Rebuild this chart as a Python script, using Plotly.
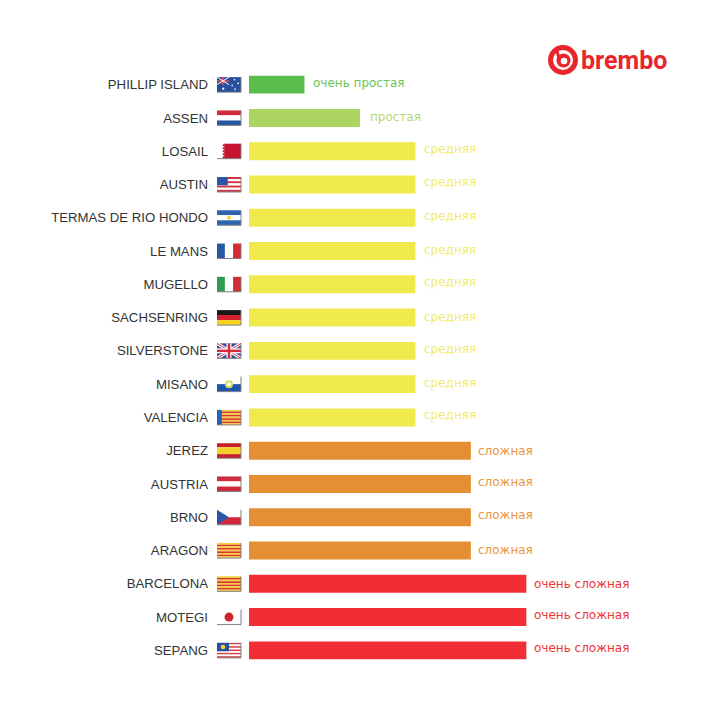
import plotly.graph_objects as go

circuits = ["PHILLIP ISLAND", "ASSEN", "LOSAIL", "AUSTIN", "TERMAS DE RIO HONDO", "LE MANS", "MUGELLO",
            "SACHSENRING", "SILVERSTONE", "MISANO", "VALENCIA", "JEREZ", "AUSTRIA", "BRNO", "ARAGON",
            "BARCELONA", "MOTEGI", "SEPANG"]
difficulty = [1, 2, 3, 3, 3, 3, 3, 3, 3, 3, 3, 4, 4, 4, 4, 5, 5, 5]
level_names = {1: "очень простая", 2: "простая", 3: "средняя", 4: "сложная", 5: "очень сложная"}
bar_colors = {1: "#5BBD4E", 2: "#ABD463", 3: "#F0E94C", 4: "#E58F35", 5: "#F12E36"}
text_colors = {1: "#6CC460", 2: "#B4D972", 3: "#F2EC70", 4: "#E8963E", 5: "#EF3338"}
label_nudge = [2, 1, 2, 2, 2, 1, 2, 1, 2, 1, 2, 0, 2, 2, 1, 0, 2, 2]
label_gap = {1: 7, 2: 8, 3: 7, 4: 5, 5: 6}

W, Y = "#FFFFFF", "#F5D327"
stripes_cat = [(0, 1, i / 9, (i + 1) / 9, "#D9362B" if i % 2 else "#F4CE3A") for i in range(9)]
# flag rectangles: (x0, x1, y0, y1, colour) as fractions of the flag box, y measured from the top
flags = {
    "PHILLIP ISLAND": [(0, 1, 0, 1, "#24509F"), (0, .5, .2, .3, "#E04B5A"), (.2, .3, 0, .5, "#E04B5A"),
                       (.7, .76, .12, .22, W), (.85, .91, .35, .45, W), (.6, .66, .5, .6, W), (.72, .78, .75, .85, W),
                       (.22, .3, .7, .84, W)],
    "ASSEN": [(0, 1, 0, .33, "#CF2B3A"), (0, 1, .33, .67, W), (0, 1, .67, 1, "#27569F")],
    "LOSAIL": [(.3, 1, 0, 1, "#C4142F")],
    "AUSTIN": [(0, 1, i / 7, (i + 1) / 7, "#D0353F" if i % 2 == 0 else W) for i in range(7)] + [(0, .45, 0, .55, "#2D55A5")],
    "TERMAS DE RIO HONDO": [(0, 1, 0, .33, "#2C65AE"), (0, 1, .33, .67, W), (0, 1, .67, 1, "#2C65AE")],
    "LE MANS": [(0, .33, 0, 1, "#2857A6"), (.33, .67, 0, 1, W), (.67, 1, 0, 1, "#D62A35")],
    "MUGELLO": [(0, .33, 0, 1, "#2F9A50"), (.33, .67, 0, 1, W), (.67, 1, 0, 1, "#D22B3A")],
    "SACHSENRING": [(0, 1, 0, .33, "#1A1A1A"), (0, 1, .33, .67, "#D5202B"), (0, 1, .67, 1, "#F6D21F")],
    "SILVERSTONE": [(0, 1, 0, 1, "#2A4FA0")],
    "MISANO": [(0, 1, 0, .5, W), (0, 1, .5, 1, "#1E56B0")],
    "VALENCIA": [(0, 1, i / 9, (i + 1) / 9, "#D9362B" if i % 2 else "#F4CE3A") for i in range(9)] + [(0, .2, 0, 1, "#2A62B5")],
    "JEREZ": [(0, 1, 0, .27, "#C9202E"), (0, 1, .27, .73, "#F5CF2B"), (0, 1, .73, 1, "#C9202E")],
    "AUSTRIA": [(0, 1, 0, .33, "#CE2B3C"), (0, 1, .33, .67, W), (0, 1, .67, 1, "#CE2B3C")],
    "BRNO": [(0, 1, 0, .5, W), (0, 1, .5, 1, "#D3283A")],
    "ARAGON": stripes_cat,
    "BARCELONA": stripes_cat,
    "MOTEGI": [],
    "SEPANG": [(0, 1, i / 9, (i + 1) / 9, "#D9404A" if i % 2 == 0 else W) for i in range(9)] + [(0, .5, 0, .56, "#24509F")],
}
# flag polygons: (colour, line width, [(x, y), ...]) in the same fractions
uk_diag = [[(0, 0), (1, 1)], [(0, 1), (1, 0)]]
flag_lines = {
    "PHILLIP ISLAND": [(W, 1, [(0, 0), (.5, .5)]), (W, 1, [(0, .5), (.5, 0)])],
    "SILVERSTONE": [(W, 3, uk_diag[0]), (W, 3, uk_diag[1]), ("#D8283A", 1, uk_diag[0]), ("#D8283A", 1, uk_diag[1]),
                    (W, 5, [(.5, 0), (.5, 1)]), (W, 5, [(0, .5), (1, .5)]),
                    ("#D8283A", 2.5, [(.5, 0), (.5, 1)]), ("#D8283A", 2.5, [(0, .5), (1, .5)])],
}
flag_polys = {
    "LOSAIL": [("#C4142F", [(.3, 0), (.22, .1), (.3, .2), (.22, .3), (.3, .4), (.22, .5), (.3, .6), (.22, .7), (.3, .8), (.22, .9), (.3, 1)])],
    "BRNO": [("#2B55A8", [(0, 0), (.5, .5), (0, 1)])],
}
# flag discs: (cx, cy, radius in px, colour)
flag_discs = {
    "TERMAS DE RIO HONDO": [(.5, .5, 2, "#F5D327")],
    "MISANO": [(.5, .5, 4, "#CFE05A"), (.5, .5, 2, W)],
    "MOTEGI": [(.5, .5, 4.5, "#D1202F")],
    "SEPANG": [(.25, .28, 2.3, Y)],
}
FX0, FX1, FH = -32, -8, 15
FW = FX1 - FX0
def fx(v): return FX0 + FW * v
def fy(v): return FH / 2 - FH * v

shapes = []
base = dict(xref="paper", yref="y", xsizemode="pixel", ysizemode="pixel", xanchor=0, layer="above")

for name in circuits:
    for x0, x1, y0, y1, col in flags[name]:
        shapes.append(dict(base, type="rect", yanchor=name, x0=fx(x0), x1=fx(x1), y0=fy(y0), y1=fy(y1),
                           fillcolor=col, line_width=0))
    for col, pts in flag_polys.get(name, []):
        path = "M" + " L".join(f"{fx(a)},{fy(b)}" for a, b in pts) + " Z"
        shapes.append(dict(base, type="path", yanchor=name, path=path, fillcolor=col, line_width=0))
    for col, lw, pts in flag_lines.get(name, []):
        path = "M" + " L".join(f"{fx(a)},{fy(b)}" for a, b in pts)
        shapes.append(dict(base, type="path", yanchor=name, path=path, line=dict(color=col, width=lw)))
    for cx, cy, r, col in flag_discs.get(name, []):
        shapes.append(dict(base, type="circle", yanchor=name, x0=fx(cx) - r, x1=fx(cx) + r, y0=fy(cy) - r, y1=fy(cy) + r,
                           fillcolor=col, line_width=0))
    shapes.append(dict(base, type="path", yanchor=name, path=f"M{FX0},{-FH/2} L{FX1},{-FH/2} L{FX1},{FH/2}",
                       fillcolor="rgba(0,0,0,0)", line=dict(color="#808080", width=1)))

fig = go.Figure(go.Bar(
    y=circuits, x=difficulty, orientation="h",
    marker=dict(color=[bar_colors[d] for d in difficulty], line_width=0),
    hoverinfo="skip"))

annotations = [dict(x=d, y=c, xref="x", yref="y", text=level_names[d], showarrow=False, xanchor="left",
                    xshift=label_gap[d], yshift=n, font=dict(family="DejaVu Sans", size=12, color=text_colors[d]))
               for c, d, n in zip(circuits, difficulty, label_nudge)]
annotations.append(dict(xref="paper", yref="paper", x=1.0, y=1.0, xanchor="right", yanchor="middle", xshift=-57, yshift=8,
                        text="<b>brembo</b>", showarrow=False,
                        font=dict(family="Roboto", size=25, weight=900, color="#E8262B")))

fig.update_layout(
    width=728, height=728, autosize=False, showlegend=False,
    margin=dict(l=249, r=2, t=68, b=61, pad=0),
    paper_bgcolor="white", plot_bgcolor="white", bargap=0.46,
    font=dict(family="Liberation Sans"),
    xaxis=dict(range=[0, 8.6], visible=False, fixedrange=True),
    yaxis=dict(autorange=False, range=[17.5, -0.5], type="category", categoryorder="array", categoryarray=circuits,
               showgrid=False, zeroline=False, showline=False, ticks="", ticklabelstandoff=40,
               tickfont=dict(family="Liberation Sans", size=13.2, color="#333333"), fixedrange=True),
    shapes=shapes, annotations=annotations)

# logo disc
def px(x): return (x - 249) / 477
def py(y): return (667 - y) / 599
for (cx, cy, r, col) in [(563, 60, 15, "#E8262B"), (563, 60, 10, W), (563.5, 60.5, 7, "#E8262B"), (564, 61, 3.3, W)]:
    fig.add_shape(type="circle", xref="paper", yref="paper", x0=px(cx - r), x1=px(cx + r), y0=py(cy + r), y1=py(cy - r),
                  fillcolor=col, line_width=0, layer="above")
fig.add_shape(type="line", xref="paper", yref="paper", x0=px(557), x1=px(559.5), y0=py(51), y1=py(60),
              line=dict(color="#E8262B", width=3), layer="above")

fig.write_html("out.html", config={"displayModeBar": False},
               post_script="document.body.style.margin='0';")
